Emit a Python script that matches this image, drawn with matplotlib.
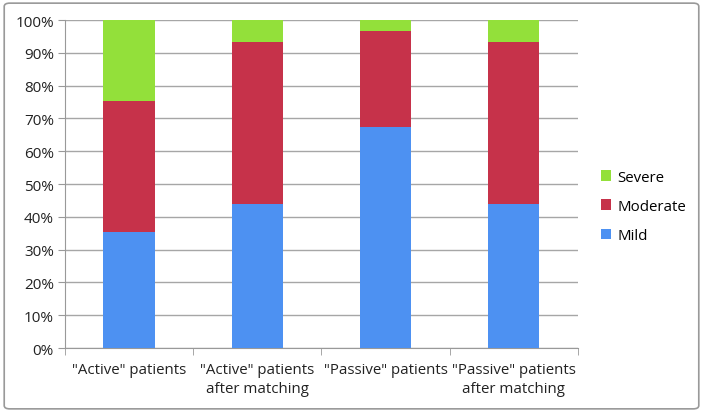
import matplotlib.pyplot as plt
from matplotlib.patches import FancyBboxPatch
from matplotlib.ticker import PercentFormatter

categories = ['"Active" patients', '"Active" patients\nafter matching',
              '"Passive" patients', '"Passive" patients\nafter matching']
mild = [35.5, 43.9, 67.3, 43.9]
moderate = [39.7, 49.3, 29.4, 49.3]
severe = [24.8, 6.8, 3.3, 6.8]

plt.rcParams['font.family'] = ['Open Sans', 'DejaVu Sans']

fig = plt.figure(figsize=(7.03, 4.14), dpi=100)
ax = fig.add_axes([0.0925, 0.157, 0.7295, 0.792])

x = range(len(categories))
w = 0.4
ax.bar(x, mild, w, color='#4D91F2', label='Mild', zorder=3)
ax.bar(x, moderate, w, bottom=mild, color='#C6324A', label='Moderate', zorder=3)
bottoms = [a + b for a, b in zip(mild, moderate)]
ax.bar(x, severe, w, bottom=bottoms, color='#93E03A', label='Severe', zorder=3)

ax.set_xlim(-0.5, 3.5)
ax.set_ylim(0, 100)
ax.set_yticks(range(0, 101, 10))
ax.yaxis.set_major_formatter(PercentFormatter(decimals=0))
ax.set_xticks(list(x))
ax.set_xticklabels(categories, fontsize=10.8, color='#222222', linespacing=1.35)
ax.tick_params(axis='x', length=0, pad=10)
ax.set_xticks([-0.5, 0.5, 1.5, 2.5, 3.5], minor=True)
ax.tick_params(axis='x', which='minor', length=5, color='#999999')
ax.tick_params(axis='y', length=5, color='#999999', labelsize=11, labelcolor='#222222', pad=3)

ax.grid(axis='y', color='#A6A6A6', linewidth=1, zorder=0)
for s in ['top', 'right']:
    ax.spines[s].set_visible(False)
ax.spines['left'].set_color('#999999')
ax.spines['bottom'].set_color('#999999')

handles, labels = ax.get_legend_handles_labels()
fig.legend(handles[::-1], labels[::-1], loc='center left', bbox_to_anchor=(0.835, 0.499),
           frameon=False, fontsize=10.8, handlelength=0.7, handleheight=0.7,
           handletextpad=0.4, labelspacing=0.95)

border = FancyBboxPatch((0.006, 0.01), 0.988, 0.98, boxstyle='round,pad=0,rounding_size=0.008',
                        transform=fig.transFigure, fill=False, edgecolor='#999999', linewidth=1.2)
fig.patches.append(border)

fig.savefig('out.png', dpi=100)
